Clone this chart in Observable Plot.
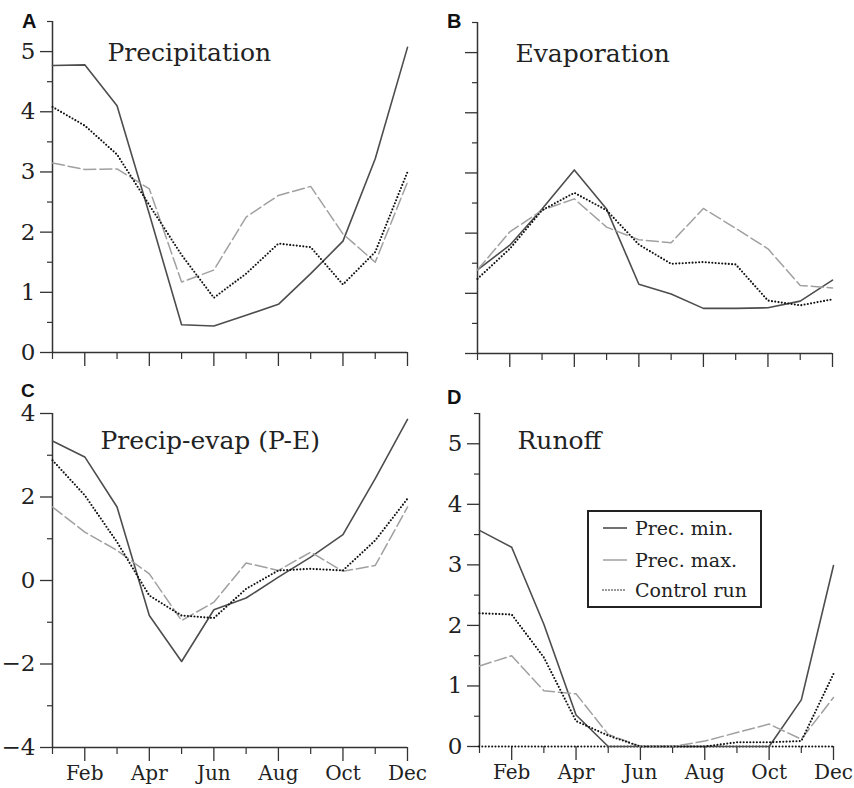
<!DOCTYPE html>
<html><head><meta charset="utf-8">
<script src="https://cdn.jsdelivr.net/npm/d3@7"></script>
<script src="https://cdn.jsdelivr.net/npm/@observablehq/plot@0.6"></script>
<style>
body{margin:0;background:#fff;}
#wrap{position:relative;width:854px;height:788px;overflow:hidden;background:#fff;}
.panel{position:absolute;}
.letter{position:absolute;font-family:'Liberation Sans',Arial,sans-serif;font-weight:bold;font-size:20px;color:#111;line-height:1;}
#legend{position:absolute;left:587px;top:510px;width:171px;height:94px;border:2px solid #222;background:#fff;font-family:'DejaVu Serif',serif;font-size:19px;color:#222;}
#legend .row{position:absolute;left:0;height:24px;display:flex;align-items:center;}
#legend svg{margin-left:13px;margin-right:7px;}
</style></head><body><div id="wrap"></div>
<script>
const months = [1,2,3,4,5,6,7,8,9,10,11,12];
const monthLabels = ["Jan","Feb","Mar","Apr","May","Jun","Jul","Aug","Sep","Oct","Nov","Dec"];
const seriesNames = ["Prec. min.","Prec. max.","Control run"];
const panelLetters = ["A","B","C","D"];
const panelTitles = ["Precipitation","Evaporation","Precip-evap (P-E)","Runoff"];

const precipMin  = [4.77,4.78,4.10,2.30,0.46,0.44,0.62,0.80,1.31,1.85,3.22,5.07];
const precipMax  = [3.15,3.04,3.05,2.72,1.17,1.37,2.25,2.61,2.76,1.97,1.50,2.83];
const precipCtrl = [4.08,3.77,3.29,2.45,1.62,0.91,1.31,1.81,1.75,1.13,1.67,3.00];

const evapMin  = [1.39,1.80,2.40,3.05,2.40,1.15,0.99,0.75,0.75,0.76,0.87,1.22];
const evapMax  = [1.39,2.02,2.38,2.57,2.10,1.89,1.84,2.41,2.08,1.74,1.13,1.09];
const evapCtrl = [1.24,1.74,2.38,2.67,2.38,1.81,1.49,1.52,1.48,0.88,0.80,0.90];

const peMin  = [3.34,2.96,1.76,-0.84,-1.94,-0.70,-0.42,0.08,0.56,1.10,2.44,3.86];
const peMax  = [1.76,1.16,0.72,0.16,-0.96,-0.52,0.42,0.24,0.68,0.22,0.36,1.76];
const peCtrl = [2.88,2.04,0.92,-0.36,-0.84,-0.90,-0.20,0.24,0.28,0.24,0.96,1.96];

const runoffMin  = [3.57,3.29,2.02,0.52,0,0,0,0,0,0,0.77,2.99];
const runoffMax  = [1.33,1.50,0.92,0.87,0.20,0,0,0.09,0.23,0.37,0.12,0.81];
const runoffCtrl = [2.20,2.18,1.47,0.42,0.18,0,0,0,0.07,0.07,0.09,1.20];

const yTicks05 = [0,1,2,3,4,5];
const yMinor05 = [0.5,1.5,2.5,3.5,4.5,5.5];
const yTicksPE = [-4,-2,0,2,4];
const yMinorPE = [-3,-1,1,3];
const evenMonths = [2,4,6,8,10,12];
const oddMonths = [1,3,5,7,9,11];

const seriesStyles = [
  {stroke:"#4d4d4d", strokeWidth:1.6},
  {stroke:"#a0a0a0", strokeWidth:1.5, strokeDasharray:"12,4"},
  {stroke:"#111", strokeWidth:2.1, strokeDasharray:"0,3.3", strokeLinecap:"round"}
];

const panels = [
  {values:[precipMin,precipMax,precipCtrl], left:0, top:0, width:427, height:380, mt:21, mb:28, ml:52, mr:20,
   y:[0,5.5], major:yTicks05, minor:yMinor05, yLabels:true, xLabels:false, tdx:55, tdy:39, lx:22, ly:11, lf:20},
  {values:[evapMin,evapMax,evapCtrl], left:427, top:0, width:427, height:380, mt:22, mb:27, ml:50, mr:22,
   y:[0,5.5], major:yTicks05, minor:yMinor05, yLabels:false, xLabels:false, tdx:38, tdy:39, lx:447, ly:11, lf:20},
  {values:[peMin,peMax,peCtrl], left:0, top:380, width:427, height:408, mt:33, mb:41, ml:52, mr:20,
   y:[-4,4], major:yTicksPE, minor:yMinorPE, yLabels:true, xLabels:true, tdx:48, tdy:35, lx:21, ly:381, lf:19},
  {values:[runoffMin,runoffMax,runoffCtrl], left:427, top:380, width:427, height:408, mt:33, mb:42, ml:52, mr:21,
   y:[0,5.5], major:yTicks05, minor:yMinor05, yLabels:true, xLabels:true, tdx:38, tdy:35, lx:447, ly:387, lf:20, zeroDotted:true}
];

const wrap = document.getElementById("wrap");

panels.forEach((p, pi) => {
  const data = p.values.flatMap((vals, si) => months.map((m, j) => ({month:m, value:vals[j], series:seriesNames[si]})));
  const lineMarks = seriesNames.map((s, si) =>
    Plot.line(data.filter(d => d.series === s), {x:"month", y:"value", ...seriesStyles[si]}));
  const marks = [
    Plot.axisY(p.major, {label:null, tickSize:12, tickPadding:5, stroke:"#333", strokeWidth:1.3, fill:"#222",
      fontSize:23, tickFormat: p.yLabels ? (d => d3.format("")(d).replace("-", "\u2212")) : (() => "")}),
    Plot.axisY(p.minor, {label:null, tickSize:5, stroke:"#333", strokeWidth:1.2, tickFormat:() => ""}),
    Plot.axisX(evenMonths, {label:null, tickSize:14, tickPadding:4, stroke:"#333", strokeWidth:1.3, fill:"#222",
      fontSize:20, tickFormat: p.xLabels ? (m => monthLabels[m-1]) : (() => "")}),
    Plot.axisX(oddMonths, {label:null, tickSize:7, stroke:"#333", strokeWidth:1.2, tickFormat:() => ""}),
    Plot.ruleX([1], {stroke:"#333", strokeWidth:1.5}),
    p.zeroDotted
      ? Plot.ruleY([p.y[0]], {stroke:"#111", strokeWidth:2.1, strokeDasharray:"0,3.3", strokeLinecap:"round"})
      : Plot.ruleY([p.y[0]], {stroke:"#333", strokeWidth:1.5}),
    ...lineMarks,
    Plot.text([panelTitles[pi]], {frameAnchor:"top-left", textAnchor:"start", lineAnchor:"bottom",
      dx:p.tdx, dy:p.tdy, fontSize:25, fill:"#222"})
  ];
  const svg = Plot.plot({
    width:p.width, height:p.height,
    marginTop:p.mt, marginBottom:p.mb, marginLeft:p.ml, marginRight:p.mr,
    x:{domain:[1,12], label:null},
    y:{domain:p.y, label:null},
    style:{fontFamily:"'DejaVu Serif', serif", fontSize:"20px", color:"#222", background:"transparent", overflow:"visible"},
    marks
  });
  svg.classList.add("panel");
  svg.style.left = p.left + "px";
  svg.style.top = p.top + "px";
  wrap.appendChild(svg);
  const L = document.createElement("div");
  L.className = "letter";
  L.textContent = panelLetters[pi];
  L.style.left = p.lx + "px";
  L.style.top = p.ly + "px";
  L.style.fontSize = p.lf + "px";
  wrap.appendChild(L);
});

// legend
const legend = document.createElement("div");
legend.id = "legend";
const rowTops = [4, 36, 66];
seriesNames.forEach((s, si) => {
  const row = document.createElement("div");
  row.className = "row";
  row.style.top = rowTops[si] + "px";
  const st = seriesStyles[si];
  const dashAttr = si === 2 ? `stroke-dasharray="0,3" stroke-linecap="round"` : "";
  row.innerHTML = `<svg width="26" height="10"><line x1="1" x2="25" y1="5" y2="5" stroke="${st.stroke}" stroke-width="${si === 2 ? 1.6 : st.strokeWidth}" ${dashAttr}/></svg><span>${s}</span>`;
  legend.appendChild(row);
});
wrap.appendChild(legend);
</script>
</body></html>
